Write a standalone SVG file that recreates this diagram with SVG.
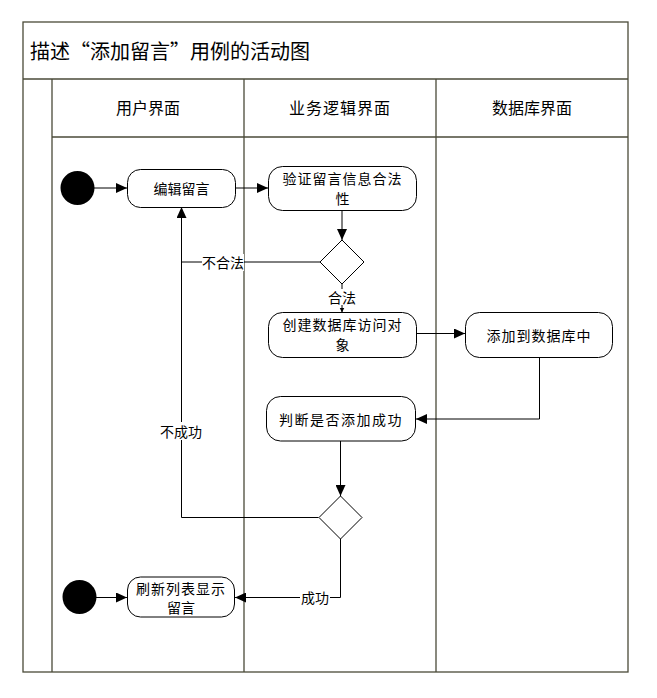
<svg xmlns="http://www.w3.org/2000/svg" width="657" height="698" viewBox="0 0 657 698">
<style>
.frame{fill:none;stroke:#4a4a38;stroke-width:1.3}
.node{fill:#fff;stroke:#000;stroke-width:1}
.t{font-family:"Noto Sans CJK SC","Noto Sans",sans-serif;font-size:14px;fill:#000;text-anchor:middle;dominant-baseline:central}
.hd{font-size:16px}
.title{font-size:20px;text-anchor:start}
.edge{fill:none;stroke:#000;stroke-width:1}
.lbg{fill:#fff}
</style>
<defs>
<marker id="arr" markerUnits="userSpaceOnUse" markerWidth="12" markerHeight="10" refX="11" refY="5" orient="auto"><path d="M0,0 L11,5 L0,10 z" fill="#000"/></marker>
<marker id="arrs" markerUnits="userSpaceOnUse" markerWidth="6" markerHeight="6" refX="5" refY="3" orient="auto"><path d="M0,0.5 L5,3 L0,5.5 z" fill="#000"/></marker>
</defs>
<rect width="657" height="698" fill="#fff"/>
<g id="swimlanes">
<rect class="frame" x="23" y="22" width="605" height="650"/>
<line class="frame" x1="23" y1="79" x2="628" y2="79"/>
<line class="frame" x1="52" y1="137" x2="628" y2="137"/>
<line class="frame" x1="52" y1="79" x2="52" y2="672"/>
<line class="frame" x1="244" y1="79" x2="244" y2="672"/>
<line class="frame" x1="436" y1="79" x2="436" y2="672"/>
<text class="t title" x="30" y="50">描述“添加留言”用例的活动图</text>
<text class="t hd" x="148" y="107">用户界面</text>
<text class="t hd" x="340" y="107" letter-spacing="1">业务逻辑界面</text>
<text class="t hd" x="532" y="107">数据库界面</text>
</g>
<g id="connectors">
<line class="edge" x1="94" y1="188" x2="127" y2="188" marker-end="url(#arr)"/>
<line class="edge" x1="236" y1="188" x2="268" y2="188" marker-end="url(#arr)"/>
<line class="edge" x1="342" y1="211" x2="342" y2="240" marker-end="url(#arr)"/>
<polyline class="edge" points="320,262 181.5,262 181.5,207" marker-end="url(#arr)"/>
<rect class="lbg" x="202" y="254" width="42" height="17"/>
<text class="t" x="223" y="262">不合法</text>
<line class="edge" x1="342" y1="284" x2="342" y2="312.5" marker-end="url(#arrs)"/>
<rect class="lbg" x="327" y="289" width="30" height="16"/>
<text class="t" x="342" y="297">合法</text>
<line class="edge" x1="417" y1="333.5" x2="465" y2="333.5" marker-end="url(#arr)"/>
<polyline class="edge" points="539.5,357 539.5,419 416,419" marker-end="url(#arr)"/>
<line class="edge" x1="340.5" y1="441" x2="340.5" y2="496" marker-end="url(#arr)"/>
<polyline class="edge" points="318.5,517.5 181.5,517.5 181.5,262"/>
<rect class="lbg" x="159" y="422" width="43" height="18"/>
<text class="t" x="181" y="431">不成功</text>
<polyline class="edge" points="340.5,539 340.5,597.5 235,597.5" marker-end="url(#arr)"/>
<rect class="lbg" x="300" y="589" width="30" height="17"/>
<text class="t" x="315" y="597">成功</text>
<line class="edge" x1="96" y1="597.5" x2="127" y2="597.5" marker-end="url(#arr)"/>
</g>
<g id="start1"><circle cx="77.5" cy="188" r="17" fill="#000"/></g>
<g id="edit"><rect class="node" x="127.5" y="169.5" width="108" height="38" rx="13"/><text class="t" x="181.5" y="188">编辑留言</text></g>
<g id="validate"><rect class="node" x="268.5" y="166.5" width="148" height="44" rx="14"/><text class="t" x="342.5" y="177.5" letter-spacing="1">验证留言信息合法</text><text class="t" x="342.5" y="197.5">性</text></g>
<g id="decision1"><polygon class="node" points="342,240 364,262 342,284 320,262"/></g>
<g id="create"><rect class="node" x="268.5" y="312.5" width="148" height="45" rx="14"/><text class="t" x="342.5" y="324" letter-spacing="1">创建数据库访问对</text><text class="t" x="342.5" y="344">象</text></g>
<g id="adddb"><rect class="node" x="465.5" y="312.5" width="147" height="45" rx="14"/><text class="t" x="539" y="335" letter-spacing="1">添加到数据库中</text></g>
<g id="check"><rect class="node" x="266.5" y="396.5" width="149" height="44.5" rx="14"/><text class="t" x="341" y="418.5" letter-spacing="1.5">判断是否添加成功</text></g>
<g id="decision2"><polygon class="node" points="340.5,496 362,517.5 340.5,539 319,517.5"/></g>
<g id="start2"><circle cx="79.5" cy="597" r="17" fill="#000"/></g>
<g id="refresh"><rect class="node" x="127.5" y="577" width="107" height="40" rx="13"/><text class="t" x="181" y="588" letter-spacing="1">刷新列表显示</text><text class="t" x="181" y="607">留言</text></g>
</svg>
